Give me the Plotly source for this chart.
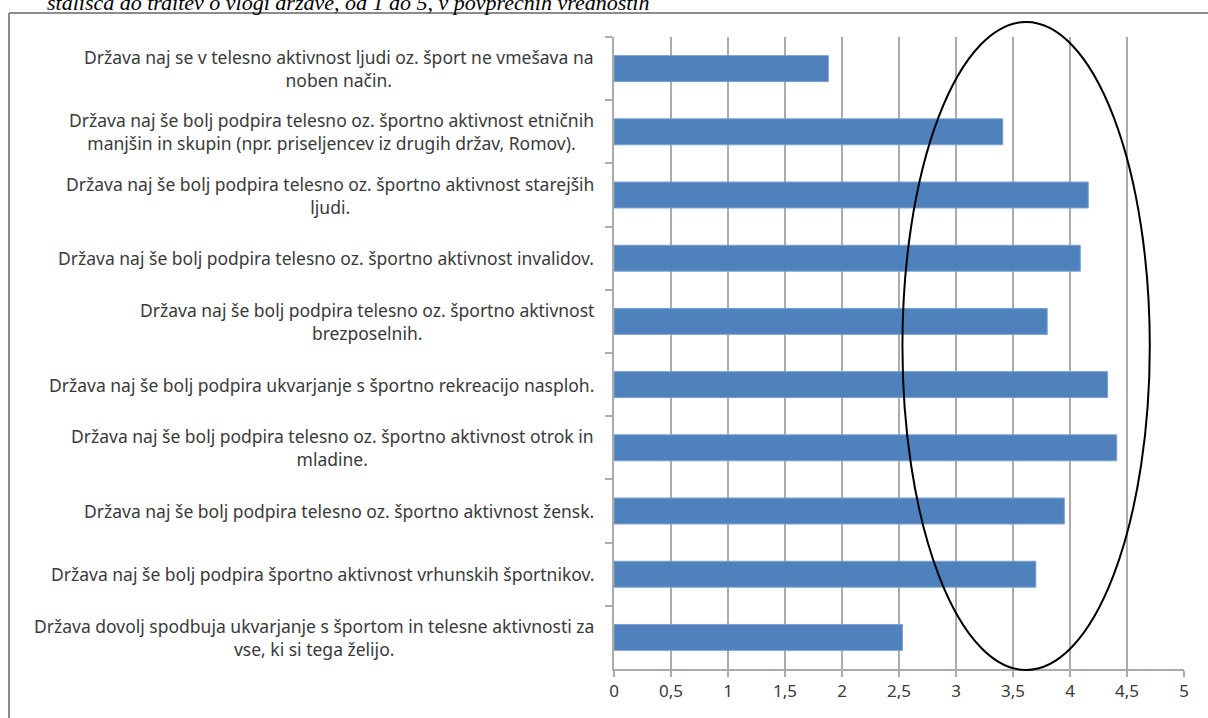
import plotly.graph_objects as go

# Statements, listed top to bottom as they appear on the chart
statements = [
    "Država naj se v telesno aktivnost ljudi oz. šport ne vmešava na<br>noben način.",
    "Država naj še bolj podpira telesno oz. športno aktivnost etničnih<br>manjšin in skupin (npr. priseljencev iz drugih držav, Romov).",
    "Država naj še bolj podpira telesno oz. športno aktivnost starejših<br>ljudi.",
    "Država naj še bolj podpira telesno oz. športno aktivnost invalidov.",
    "Država naj še bolj podpira telesno oz. športno aktivnost<br>brezposelnih.",
    "Država naj še bolj podpira ukvarjanje s športno rekreacijo nasploh.",
    "Država naj še bolj podpira telesno oz. športno aktivnost otrok in<br>mladine.",
    "Država naj še bolj podpira telesno oz. športno aktivnost žensk.",
    "Država naj še bolj podpira športno aktivnost vrhunskih športnikov.",
    "Država dovolj spodbuja ukvarjanje s športom in telesne aktivnosti za<br>vse, ki si tega želijo.",
]

# Mean agreement score (1-5 scale)
mean_scores = [1.88, 3.41, 4.16, 4.09, 3.80, 4.33, 4.41, 3.95, 3.70, 2.53]

x_ticks = [0, 0.5, 1, 1.5, 2, 2.5, 3, 3.5, 4, 4.5, 5]

caption = "stališča do trditev o vlogi države, od 1 do 5, v povprečnih vrednostih"

W, H = 1208, 718
L, R, T, B = 614, 24, 37, 49
pw, ph = W - L - R, H - T - B


def px_x(px):
    return (px - L) / pw


def px_y(py):
    return (H - B - py) / ph


grid = "#ababab"
text_col = "#3a3a3a"
label_font = dict(family="Noto Sans, Open Sans, sans-serif", size=17.5, color=text_col)

fig = go.Figure(
    go.Bar(
        x=mean_scores,
        y=statements,
        orientation="h",
        width=0.41,
        marker=dict(color="#4f81bd", line=dict(color="#7a9fcf", width=1)),
        hoverinfo="x",
    )
)

annotations = [
    dict(
        x=px_x(596), y=s, xref="paper", yref="y",
        text=s, showarrow=False, xanchor="right", yanchor="middle",
        align="center", font=label_font,
    )
    for s in statements
]

annotations.append(
    dict(
        x=px_x(45), y=px_y(0), xref="paper", yref="paper", yshift=-3,
        text="<i>" + caption + "</i>", showarrow=False, xanchor="left", yanchor="middle",
        font=dict(family="Liberation Serif, Times New Roman, serif", size=22,
                  color="#000000"),
    )
)

shapes = [
    # outer chart frame (left and top edges)
    dict(type="line", xref="paper", yref="paper",
         x0=px_x(9), y0=px_y(H + 5), x1=px_x(9), y1=px_y(13),
         line=dict(color="#8c8c8c", width=2)),
    dict(type="line", xref="paper", yref="paper",
         x0=px_x(9), y0=px_y(13), x1=px_x(W + 5), y1=px_y(13),
         line=dict(color="#8c8c8c", width=2)),
    # highlighted region
    dict(type="circle", xref="x", yref="paper",
         x0=2.53, x1=4.70, y0=px_y(670), y1=px_y(22),
         line=dict(color="#000000", width=2)),
]

fig.update_layout(
    width=W, height=H,
    margin=dict(l=L, r=R, t=T, b=B, pad=0),
    paper_bgcolor="white", plot_bgcolor="white",
    separators=", ",
    showlegend=False,
    bargap=0.59,
    annotations=annotations,
    shapes=shapes,
    xaxis=dict(
        range=[0, 5], tickvals=x_ticks, tickformat=".1~f",
        showgrid=True, gridcolor=grid, gridwidth=1.5,
        showline=True, linecolor=grid, linewidth=1.5,
        ticks="outside", ticklen=6, tickcolor=grid, tickwidth=1.5,
        tickfont=dict(family="Noto Sans, Open Sans, sans-serif", size=17, color=text_col),
        zeroline=False, fixedrange=True,
    ),
    yaxis=dict(
        type="category", autorange="reversed",
        showticklabels=False, tickson="boundaries",
        ticks="outside", ticklen=7, tickcolor=grid, tickwidth=1.5,
        showline=True, linecolor=grid, linewidth=1.5,
        showgrid=False, zeroline=False, fixedrange=True,
    ),
)

fig.write_html("out.html")
